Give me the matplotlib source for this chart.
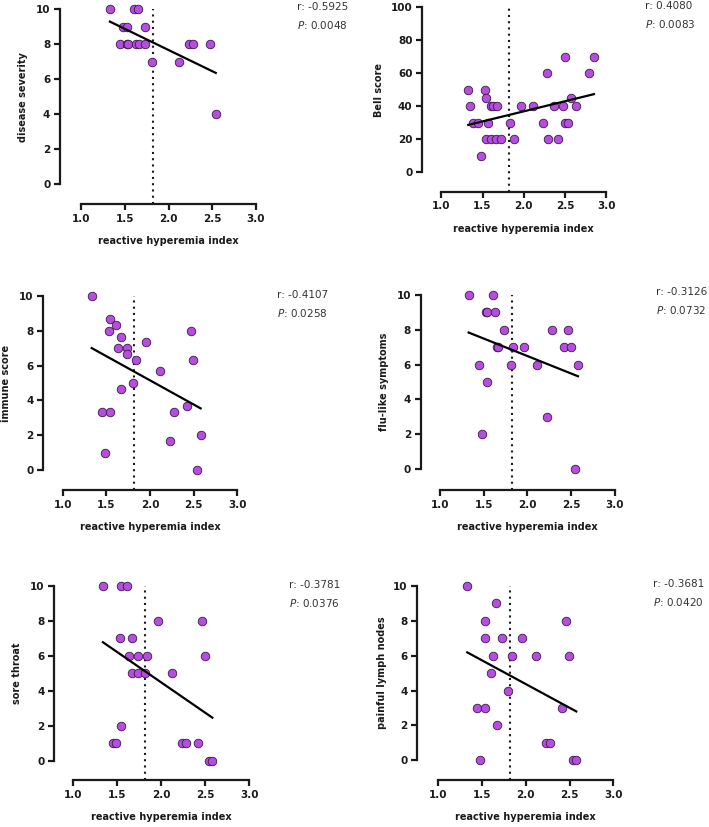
import matplotlib.pyplot as plt
import numpy as np

plt.rcParams['font.family'] = ['DejaVu Sans']

W, H = 709, 827

# reactive hyperemia index (x) and symptom scores (y) per panel
rhi_severity = [1.33, 1.60, 1.655, 1.48, 1.53, 1.73, 1.446, 1.53, 1.54, 1.63, 1.66, 1.73,
                1.815, 2.12, 2.23, 2.28, 2.47, 2.54]
severity = [10, 10, 10, 9, 9, 9, 8, 8, 8, 8, 8, 8, 7, 7, 8, 8, 8, 4]

rhi_bell = [1.327, 1.345, 1.38, 1.45, 1.48, 1.53, 1.54, 1.54, 1.566, 1.60, 1.63, 1.67,
            1.606, 1.66, 1.72, 1.837, 1.885, 1.96, 2.115, 2.23, 2.28, 2.29, 2.37, 2.42,
            2.47, 2.50, 2.495, 2.54, 2.576, 2.63, 2.79, 2.85]
bell = [50, 40, 30, 30, 10, 50, 45, 20, 30, 40, 40, 40, 20, 20, 20, 30, 20, 40, 40, 30,
        60, 20, 40, 20, 40, 70, 30, 30, 45, 40, 60, 70]

rhi_immune = [1.332, 1.542, 1.61, 1.53, 1.664, 1.63, 1.733, 1.733, 1.836, 1.958, 1.81,
              1.672, 2.12, 1.446, 1.542, 1.485, 2.28, 2.23, 2.42, 2.47, 2.496, 2.58, 2.54]
immune = [10, 8.67, 8.33, 8, 7.67, 7, 7, 6.67, 6.33, 7.33, 5, 4.67, 5.67, 3.33, 3.33, 1,
          3.33, 1.67, 3.67, 8, 6.33, 2, 0]

rhi_flu = [1.328, 1.607, 1.523, 1.534, 1.63, 1.729, 1.656, 1.668, 1.84, 1.958, 1.447,
           1.81, 2.115, 1.534, 1.477, 2.28, 2.47, 2.416, 2.50, 2.58, 2.23, 2.54]
flu = [10, 10, 9, 9, 9, 8, 7, 7, 7, 7, 6, 6, 6, 5, 2, 8, 8, 7, 7, 6, 3, 0]

rhi_throat = [1.337, 1.542, 1.614, 1.962, 2.466, 1.534, 1.663, 1.633, 1.735, 1.84, 2.50,
              1.67, 1.735, 1.81, 2.12, 1.545, 1.455, 1.485, 2.23, 2.28, 2.417, 2.54, 2.58]
throat = [10, 10, 10, 8, 8, 7, 7, 6, 6, 6, 6, 5, 5, 5, 5, 2, 1, 1, 1, 1, 1, 0, 0]

rhi_lymph = [1.331, 1.659, 1.53, 1.537, 1.728, 1.96, 1.629, 1.842, 2.116, 2.493, 2.463,
             1.606, 1.80, 1.446, 1.537, 2.417, 1.667, 2.227, 2.28, 1.48, 2.54, 2.577]
lymph = [10, 9, 8, 7, 7, 7, 6, 6, 6, 6, 8, 5, 4, 3, 3, 3, 2, 1, 1, 0, 0, 0]

ylabels = ['disease severity', 'Bell score', 'immune score', 'flu-like symptoms',
           'sore throat', 'painful lymph nodes']
r_texts = ['-0.5925', '0.4080', '-0.4107', '-0.3126', '-0.3781', '-0.3681']
p_texts = ['0.0048', '0.0083', '0.0258', '0.0732', '0.0376', '0.0420']
cutoff = 1.82

xs = [rhi_severity, rhi_bell, rhi_immune, rhi_flu, rhi_throat, rhi_lymph]
ys = [severity, bell, immune, flu, throat, lymph]

# pixel layout: spine_x, x=1 px, x=3 px, y top px, y=0 px, x-axis px, y top value, ylabel offset, text x, text y
layout = [
    (60, 81, 256, 9.3, 184, 204, 10, 37, 297, 7),
    (422.3, 441.3, 606.3, 7.3, 172, 191.7, 100, 43, 645, 6),
    (43.3, 62.7, 237.3, 296, 470, 490, 10, 37, 277, 295),
    (420.7, 440, 614.7, 294.7, 469.3, 490, 10, 37, 656, 292),
    (54.3, 73.3, 249.3, 586, 760.7, 780, 10, 37, 289, 585),
    (417.3, 438.3, 613.3, 586, 760.3, 780, 10, 35, 653, 584),
]

fig = plt.figure(figsize=(W / 100, H / 100), dpi=100)
purple = '#b44de0'
ink = '#1a1a1a'

for i in range(6):
    sx, x1, x3, yt, y0, xa, ytop, yoff, tx, ty = layout[i]
    xsc = (x3 - x1) / 2.0
    ysc = (y0 - yt) / ytop
    right = x3 + 6
    top = yt - 6
    ax = fig.add_axes([sx / W, 1 - xa / H, (right - sx) / W, (xa - top) / H])
    ax.set_xlim(1 - (x1 - sx) / xsc, 3 + 6 / xsc)
    ax.set_ylim(-(xa - y0) / ysc, ytop + 6 / ysc)
    for s in ['top', 'right']:
        ax.spines[s].set_visible(False)
    for s in ['left', 'bottom']:
        ax.spines[s].set_linewidth(1.6)
        ax.spines[s].set_color(ink)
    ax.spines['left'].set_bounds(0, ytop)
    ax.spines['bottom'].set_bounds(1, 3)
    ax.set_xticks([1.0, 1.5, 2.0, 2.5, 3.0])
    ax.set_xticklabels(['1.0', '1.5', '2.0', '2.5', '3.0'])
    ax.set_yticks(np.arange(0, ytop + 1, ytop / 5))
    ax.set_yticklabels([str(int(v)) for v in np.arange(0, ytop + 1, ytop / 5)])
    ax.tick_params(width=1.6, length=4, color=ink, labelsize=7.5, labelcolor=ink, pad=3)
    for lab in ax.get_xticklabels() + ax.get_yticklabels():
        lab.set_fontweight('bold')
    ax.patch.set_visible(False)

    x = np.array(xs[i])
    y = np.array(ys[i])
    ax.plot([cutoff, cutoff], [ax.get_ylim()[0], ytop], ls=(0, (1, 2)), color=ink,
            lw=1.5, clip_on=False, zorder=1)
    ax.scatter(x, y, s=38, c=purple, edgecolors='#3a1a45', linewidths=0.6, zorder=3,
               clip_on=False)
    k, b = np.polyfit(x, y, 1)
    fx = np.array([x.min(), x.max()])
    ax.plot(fx, k * fx + b, color='black', lw=1.6, zorder=4)

    fig.text(((x1 + x3) / 2) / W, 1 - (xa + 37) / H, 'reactive hyperemia index',
             ha='center', va='center', fontsize=7, fontweight='bold', color=ink)
    fig.text((sx - yoff) / W, 1 - ((yt + y0) / 2) / H, ylabels[i], rotation=90,
             ha='center', va='center', fontsize=7, fontweight='bold', color=ink)
    fig.text(tx / W, 1 - ty / H, 'r: ' + r_texts[i], ha='left', va='center',
             fontsize=7.5, color='#333333')
    fig.text(tx / W, 1 - (ty + 18) / H, r'$\it{P}$: ' + p_texts[i], ha='left',
             va='center', fontsize=7.5, color='#333333')

fig.savefig('out.png', dpi=100)
